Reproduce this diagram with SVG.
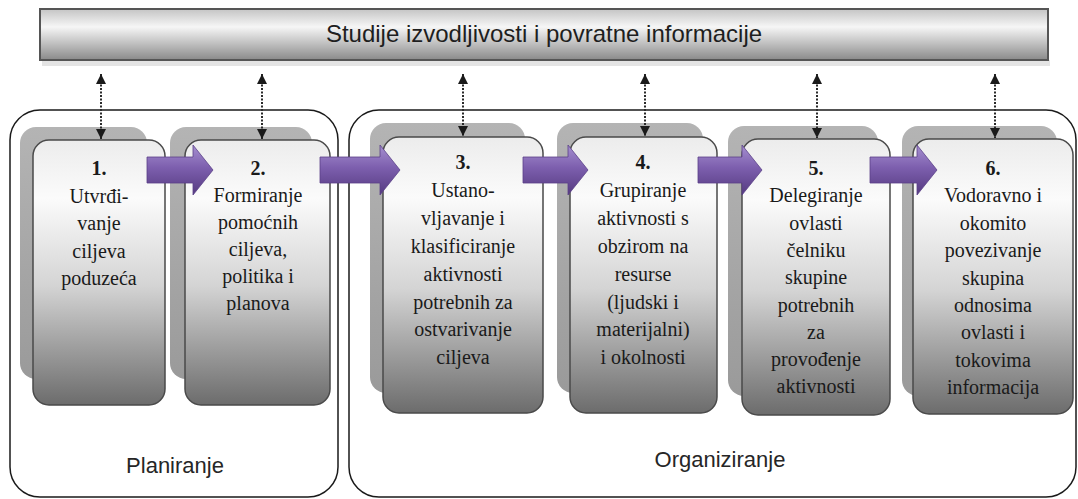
<svg xmlns="http://www.w3.org/2000/svg" width="1078" height="499" viewBox="0 0 1078 499">
<defs>
<linearGradient id="gBox" x1="0" y1="0" x2="0" y2="1">
<stop offset="0" stop-color="#ececec"/>
<stop offset="0.22" stop-color="#fbfbfb"/>
<stop offset="0.55" stop-color="#d4d4d4"/>
<stop offset="1" stop-color="#6c6c6c"/>
</linearGradient>
<linearGradient id="gShadow" x1="0" y1="0" x2="0" y2="1">
<stop offset="0" stop-color="#b4b4b4"/>
<stop offset="1" stop-color="#9a9a9a"/>
</linearGradient>
<linearGradient id="gBanner" x1="0" y1="0" x2="0" y2="1">
<stop offset="0" stop-color="#c4c4c4"/>
<stop offset="0.35" stop-color="#f6f6f6"/>
<stop offset="1" stop-color="#8a8a8a"/>
</linearGradient>
<linearGradient id="gArrow" x1="0" y1="0" x2="0" y2="1">
<stop offset="0" stop-color="#a58fd0"/>
<stop offset="0.45" stop-color="#7d5fae"/>
<stop offset="1" stop-color="#553a80"/>
</linearGradient>
<marker id="tri" viewBox="0 0 10 10" refX="10" refY="5" markerWidth="10" markerHeight="11" markerUnits="userSpaceOnUse" orient="auto-start-reverse">
<path d="M0,0 L10,5 L0,10 Z" fill="#1a1a1a"/>
</marker>
</defs>
<style>
.cont{fill:none;stroke:#1a1a1a;stroke-width:1.5}
.shadow{fill:url(#gShadow)}
.front{fill:url(#gBox);stroke:#4a4a4a;stroke-width:1.5}
.t{font-family:"Liberation Serif","Times New Roman",serif;font-size:20px;fill:#1a1a1a;text-anchor:middle}
.n{font-weight:bold}
.lbl{font-family:"Liberation Sans",Arial,sans-serif;font-size:22px;fill:#262626;text-anchor:middle}
.title{font-family:"Liberation Sans",Arial,sans-serif;font-size:24px;fill:#1e1e1e;text-anchor:middle}
.dot{fill:none;stroke:#2a2a2a;stroke-width:2;stroke-dasharray:2 1.5;marker-start:url(#tri);marker-end:url(#tri)}
.parrow{fill:url(#gArrow);stroke:#5a4088;stroke-width:0.8}
</style>

<g id="banner">
<rect x="42" y="60" width="1008" height="6" fill="#d8d8d8" opacity="0.7"/>
<rect x="40" y="9" width="1008" height="51" fill="url(#gBanner)" stroke="#555" stroke-width="2"/>
<text class="title" x="544" y="42">Studije izvodljivosti i povratne informacije</text>
</g>

<g id="planiranje">
<rect class="cont" x="10" y="110" width="328" height="387" rx="30" ry="30"/>
<text class="lbl" x="175" y="473">Planiranje</text>
</g>

<g id="organiziranje">
<rect class="cont" x="349" y="110" width="727" height="387" rx="30" ry="30"/>
<text class="lbl" x="720" y="467">Organiziranje</text>
</g>

<g id="step1">
<rect class="shadow" x="20" y="127" width="127" height="252" rx="16"/>
<rect class="front" x="33" y="140" width="132" height="265" rx="16"/>
<text class="t" x="99" y="175"><tspan class="n">1.</tspan><tspan x="99" dy="27.5">Utvrđi-</tspan><tspan x="99" dy="27.5">vanje</tspan><tspan x="99" dy="27.5">ciljeva</tspan><tspan x="99" dy="27.5">poduzeća</tspan></text>
</g>

<g id="step2">
<rect class="shadow" x="170" y="127" width="142" height="252" rx="16"/>
<rect class="front" x="185" y="140" width="145" height="265" rx="16"/>
<text class="t" x="258" y="175"><tspan class="n">2.</tspan><tspan x="258" dy="27">Formiranje</tspan><tspan x="258" dy="27">pomoćnih</tspan><tspan x="258" dy="27">ciljeva,</tspan><tspan x="258" dy="27">politika i</tspan><tspan x="258" dy="27">planova</tspan></text>
</g>

<g id="step3">
<rect class="shadow" x="370" y="123" width="155" height="270" rx="16"/>
<rect class="front" x="383" y="137" width="160" height="276" rx="16"/>
<text class="t" x="463" y="169"><tspan class="n">3.</tspan><tspan x="463" dy="27.9">Ustano-</tspan><tspan x="463" dy="27.9">vljavanje i</tspan><tspan x="463" dy="27.9">klasificiranje</tspan><tspan x="463" dy="27.9">aktivnosti</tspan><tspan x="463" dy="27.9">potrebnih za</tspan><tspan x="463" dy="27.9">ostvarivanje</tspan><tspan x="463" dy="27.9">ciljeva</tspan></text>
</g>

<g id="step4">
<rect class="shadow" x="557" y="123" width="146" height="270" rx="16"/>
<rect class="front" x="570" y="137" width="147" height="276" rx="16"/>
<text class="t" x="643" y="169"><tspan class="n">4.</tspan><tspan x="643" dy="27.9">Grupiranje</tspan><tspan x="643" dy="27.9">aktivnosti s</tspan><tspan x="643" dy="27.9">obzirom na</tspan><tspan x="643" dy="27.9">resurse</tspan><tspan x="643" dy="27.9">(ljudski i</tspan><tspan x="643" dy="27.9">materijalni)</tspan><tspan x="643" dy="27.9">i okolnosti</tspan></text>
</g>

<g id="step5">
<rect class="shadow" x="728" y="126" width="150" height="270" rx="16"/>
<rect class="front" x="742" y="139" width="148" height="276" rx="16"/>
<text class="t" x="816" y="175"><tspan class="n">5.</tspan><tspan x="816" dy="27.3">Delegiranje</tspan><tspan x="816" dy="27.3">ovlasti</tspan><tspan x="816" dy="27.3">čelniku</tspan><tspan x="816" dy="27.3">skupine</tspan><tspan x="816" dy="27.3">potrebnih</tspan><tspan x="816" dy="27.3">za</tspan><tspan x="816" dy="27.3">provođenje</tspan><tspan x="816" dy="27.3">aktivnosti</tspan></text>
</g>

<g id="step6">
<rect class="shadow" x="902" y="126" width="155" height="270" rx="16"/>
<rect class="front" x="913" y="139" width="160" height="275" rx="16"/>
<text class="t" x="993" y="175"><tspan class="n">6.</tspan><tspan x="993" dy="27.4">Vodoravno i</tspan><tspan x="993" dy="27.4">okomito</tspan><tspan x="993" dy="27.4">povezivanje</tspan><tspan x="993" dy="27.4">skupina</tspan><tspan x="993" dy="27.4">odnosima</tspan><tspan x="993" dy="27.4">ovlasti i</tspan><tspan x="993" dy="27.4">tokovima</tspan><tspan x="993" dy="27.4">informacija</tspan></text>
</g>

<g id="connectors">
<path class="parrow" d="M147,157 H193 V145 L213,170 L193,195 V183 H147 Z"/>
<path class="parrow" d="M320,157 H380 V145 L400,170 L380,195 V183 H320 Z"/>
<path class="parrow" d="M523,157 H568 V145 L588,170 L568,195 V183 H523 Z"/>
<path class="parrow" d="M698,157 H742 V145 L762,170 L742,195 V183 H698 Z"/>
<path class="parrow" d="M870,157 H917 V145 L937,170 L917,195 V183 H870 Z"/>
<line class="dot" x1="101" y1="74" x2="101" y2="139"/>
<line class="dot" x1="262" y1="74" x2="262" y2="139"/>
<line class="dot" x1="463" y1="74" x2="463" y2="136"/>
<line class="dot" x1="645" y1="74" x2="645" y2="136"/>
<line class="dot" x1="817" y1="74" x2="817" y2="138"/>
<line class="dot" x1="995" y1="74" x2="995" y2="138"/>
</g>
</svg>
